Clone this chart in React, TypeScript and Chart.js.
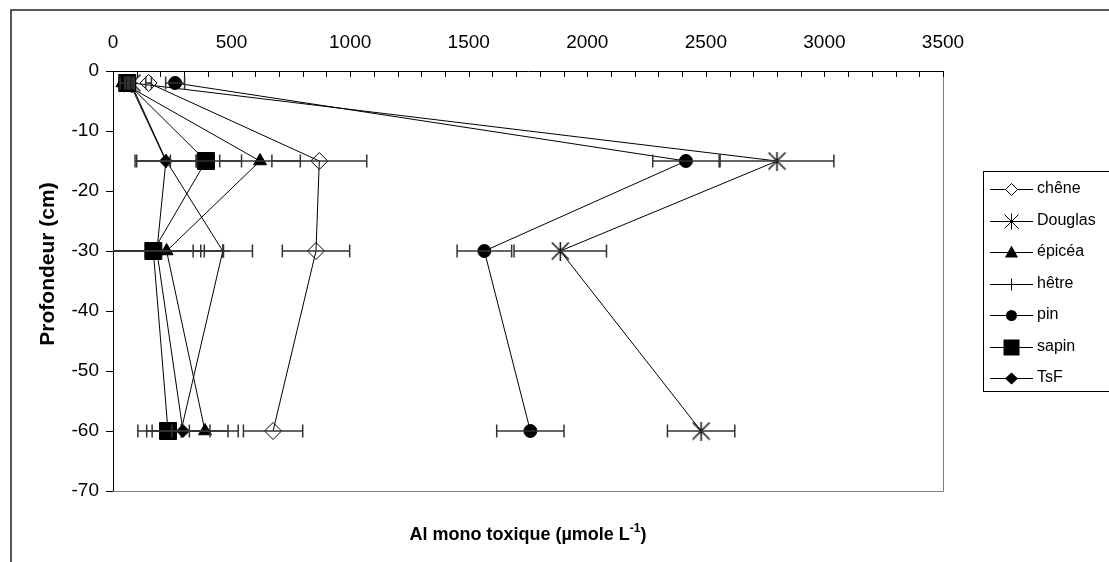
import React, { useEffect, useRef } from 'react';
import { Chart, registerables } from 'chart.js';
Chart.register(...registerables);

// ---- data ----
const depths = [-2, -15, -30, -60];
const seriesNames = ['chêne', 'Douglas', 'épicéa', 'hêtre', 'pin', 'sapin', 'TsF'];
const chene = [150, 870, 856, 675];
const cheneErr = [12, 200, 142, 125];
const douglas = [80, 2800, 1886, 2480];
const douglasErr = [10, 240, 195, 142];
const epicea = [40, 620, 226, 388];
const epiceaErr = [10, 170, 240, 140];
const hetre = [75, 225, 463, 287];
const hetreErr = [10, 125, 125, 122];
const pin = [262, 2416, 1566, 1760];
const pinErr = [40, 140, 115, 142];
const sapin = [60, 392, 170, 232];
const sapinErr = [10, 150, 200, 90];
const tsf = [70, 223, 185, 295];
const tsfErr = [10, 130, 200, 190];
const xTickLabels = [0, 500, 1000, 1500, 2000, 2500, 3000, 3500];
const yTickLabels = [0, -10, -20, -30, -40, -50, -60, -70];
const xTitleMain = 'Al mono toxique (µmole L';
const xTitleSup = '-1';
const xTitleEnd = ')';
const yTitle = 'Profondeur (cm)';

const FONT = '"Liberation Sans", Arial, sans-serif';

const values = [chene, douglas, epicea, hetre, pin, sapin, tsf];
const errors = [cheneErr, douglasErr, epiceaErr, hetreErr, pinErr, sapinErr, tsfErr];

function makeDouglasMarker(size: number): HTMLCanvasElement {
  const c = document.createElement('canvas');
  c.width = size;
  c.height = size;
  const g = c.getContext('2d')!;
  g.strokeStyle = '#000';
  g.lineWidth = 1.4;
  g.beginPath();
  g.moveTo(1, 1); g.lineTo(size - 1, size - 1);
  g.moveTo(size - 1, 1); g.lineTo(1, size - 1);
  g.moveTo(size / 2, 0); g.lineTo(size / 2, size);
  g.stroke();
  return c;
}

type Style = { style: any; radius: number; fill: string };

function drawLegendMarker(ctx: CanvasRenderingContext2D, i: number, x: number, y: number) {
  ctx.save();
  ctx.strokeStyle = '#000';
  ctx.fillStyle = '#000';
  ctx.lineWidth = 1;
  ctx.beginPath();
  switch (i) {
    case 0:
      ctx.moveTo(x, y - 6); ctx.lineTo(x + 6, y); ctx.lineTo(x, y + 6); ctx.lineTo(x - 6, y); ctx.closePath();
      ctx.fillStyle = '#fff'; ctx.fill(); ctx.stroke();
      break;
    case 1:
      ctx.moveTo(x - 7, y - 7); ctx.lineTo(x + 7, y + 7);
      ctx.moveTo(x + 7, y - 7); ctx.lineTo(x - 7, y + 7);
      ctx.moveTo(x, y - 8); ctx.lineTo(x, y + 8);
      ctx.stroke();
      break;
    case 2:
      ctx.moveTo(x, y - 7); ctx.lineTo(x + 6.5, y + 5); ctx.lineTo(x - 6.5, y + 5); ctx.closePath();
      ctx.fill();
      break;
    case 3:
      ctx.moveTo(x, y - 6); ctx.lineTo(x, y + 6);
      ctx.stroke();
      break;
    case 4:
      ctx.arc(x, y, 5.5, 0, Math.PI * 2);
      ctx.fill();
      break;
    case 5:
      ctx.rect(x - 8, y - 8, 16, 16);
      ctx.fill();
      break;
    case 6:
      ctx.moveTo(x, y - 6); ctx.lineTo(x + 6.5, y); ctx.lineTo(x, y + 6); ctx.lineTo(x - 6.5, y); ctx.closePath();
      ctx.fill();
      break;
  }
  ctx.restore();
}

const decorPlugin = {
  id: 'decor',
  beforeDraw(chart: any) {
    const ctx = chart.ctx as CanvasRenderingContext2D;
    ctx.save();
    ctx.fillStyle = '#fff';
    ctx.fillRect(0, 0, chart.width, chart.height);
    ctx.restore();
  },
  afterDatasetsDraw(chart: any) {
    const ctx = chart.ctx as CanvasRenderingContext2D;
    const xs = chart.scales.x;
    const ys = chart.scales.y;
    const a = chart.chartArea;
    ctx.save();
    ctx.beginPath();
    ctx.rect(a.left, a.top - 10, a.right - a.left, a.bottom - a.top + 20);
    ctx.clip();
    ctx.strokeStyle = '#333';
    ctx.lineWidth = 1.5;
    values.forEach((vals, s) => {
      vals.forEach((v, k) => {
        const e = errors[s][k];
        const y = ys.getPixelForValue(depths[k]);
        const x1 = xs.getPixelForValue(v - e);
        const x2 = xs.getPixelForValue(v + e);
        ctx.beginPath();
        ctx.moveTo(x1, y); ctx.lineTo(x2, y);
        ctx.moveTo(x1, y - 6.5); ctx.lineTo(x1, y + 6.5);
        ctx.moveTo(x2, y - 6.5); ctx.lineTo(x2, y + 6.5);
        ctx.stroke();
      });
    });
    ctx.restore();
  },
  afterDraw(chart: any) {
    const ctx = chart.ctx as CanvasRenderingContext2D;
    const xs = chart.scales.x;
    const a = chart.chartArea;
    ctx.save();
    ctx.strokeStyle = '#808080';
    ctx.lineWidth = 1;
    ctx.beginPath();
    ctx.moveTo(Math.round(a.right) + 0.5, a.top);
    ctx.lineTo(Math.round(a.right) + 0.5, Math.round(a.bottom) + 0.5);
    ctx.lineTo(a.left, Math.round(a.bottom) + 0.5);
    ctx.stroke();
    ctx.strokeStyle = '#000';
    ctx.beginPath();
    for (let v = 100; v <= 3500; v += 100) {
      const x = Math.round(xs.getPixelForValue(v)) + 0.5;
      ctx.moveTo(x, a.top);
      ctx.lineTo(x, a.top + 6);
    }
    ctx.stroke();
    ctx.strokeStyle = '#222';
    ctx.lineWidth = 1.5;
    ctx.strokeRect(11, 10, 1200, 700);
    ctx.fillStyle = '#000';
    ctx.save();
    ctx.translate(48, 264);
    ctx.rotate(-Math.PI / 2);
    ctx.font = `bold 21px ${FONT}`;
    ctx.textAlign = 'center';
    ctx.textBaseline = 'middle';
    ctx.fillText(yTitle, 0, 0);
    ctx.restore();
    const mainFont = `bold 18px ${FONT}`;
    const supFont = `bold 12px ${FONT}`;
    ctx.font = mainFont;
    const w1 = ctx.measureText(xTitleMain).width;
    const w3 = ctx.measureText(xTitleEnd).width;
    ctx.font = supFont;
    const w2 = ctx.measureText(xTitleSup).width;
    const total = w1 + w2 + w3;
    const x0 = (a.left + a.right) / 2 - total / 2;
    const base = 540;
    ctx.textAlign = 'left';
    ctx.textBaseline = 'alphabetic';
    ctx.font = mainFont;
    ctx.fillText(xTitleMain, x0, base);
    ctx.font = supFont;
    ctx.fillText(xTitleSup, x0 + w1, base - 8);
    ctx.font = mainFont;
    ctx.fillText(xTitleEnd, x0 + w1 + w2, base);
    ctx.lineWidth = 1;
    ctx.strokeStyle = '#000';
    ctx.fillStyle = '#fff';
    ctx.fillRect(983.5, 171.5, 200, 220);
    ctx.strokeRect(983.5, 171.5, 200, 220);
    ctx.font = `16px ${FONT}`;
    ctx.textBaseline = 'middle';
    seriesNames.forEach((name, i) => {
      const y = 189 + 31.5 * i;
      ctx.strokeStyle = '#000';
      ctx.beginPath();
      ctx.moveTo(990, Math.round(y) + 0.5);
      ctx.lineTo(1033, Math.round(y) + 0.5);
      ctx.stroke();
      drawLegendMarker(ctx, i, 1011.5, Math.round(y) + 0.5);
      ctx.fillStyle = '#000';
      ctx.fillText(name, 1037, y);
    });
    ctx.restore();
  },
};

export default function App() {
  const ref = useRef<HTMLCanvasElement | null>(null);
  useEffect(() => {
    const canvas = ref.current!;
    const douglasImg = makeDouglasMarker(19);
    const styles: Style[] = [
      { style: 'rectRot', radius: 8.5, fill: 'rgba(0,0,0,0)' },
      { style: douglasImg, radius: 9, fill: '#000' },
      { style: 'triangle', radius: 7.5, fill: '#000' },
      { style: 'cross', radius: 7, fill: '#000' },
      { style: 'circle', radius: 6.5, fill: '#000' },
      { style: 'rect', radius: 12, fill: '#000' },
      { style: 'rectRot', radius: 6.5, fill: '#000' },
    ];
    const datasets = seriesNames.map((name, i) => ({
      label: name,
      data: depths.map((d, k) => ({ x: values[i][k], y: d })),
      showLine: true,
      borderColor: '#000',
      borderWidth: 1,
      pointStyle: styles[i].style,
      pointRadius: styles[i].radius,
      pointHoverRadius: styles[i].radius,
      pointBackgroundColor: styles[i].fill,
      pointBorderColor: '#000',
      pointBorderWidth: 1,
      clip: false as any,
    }));
    const chart = new Chart(canvas, {
      type: 'scatter',
      data: { datasets },
      options: {
        animation: false,
        responsive: false,
        devicePixelRatio: 1,
        layout: { padding: { left: 0, top: 0, right: 166, bottom: 71 } },
        plugins: { legend: { display: false }, tooltip: { enabled: false } },
        scales: {
          x: {
            type: 'linear',
            position: 'top',
            min: 0,
            max: 3500,
            afterBuildTicks: (s: any) => { s.ticks = xTickLabels.map((v) => ({ value: v })); },
            ticks: {
              autoSkip: false,
              maxRotation: 0,
              padding: 17,
              color: '#000',
              font: { family: FONT, size: 19 },
              callback: (v: any) => String(v),
            },
            grid: { display: false, drawTicks: false },
            border: { display: true, color: '#000', width: 1 },
            afterFit: (s: any) => { s.height = 71; },
          },
          y: {
            type: 'linear',
            min: -70,
            max: 0,
            afterBuildTicks: (s: any) => { s.ticks = yTickLabels.map((v) => ({ value: v })); },
            ticks: {
              padding: 7,
              color: '#000',
              font: { family: FONT, size: 19 },
              callback: (v: any) => String(v),
            },
            grid: { display: true, drawOnChartArea: false, drawTicks: true, tickLength: 7, color: '#000' },
            border: { display: true, color: '#000', width: 1 },
            afterFit: (s: any) => { s.width = 113; },
          },
        },
      },
      plugins: [decorPlugin],
    } as any);
    return () => chart.destroy();
  }, []);
  return (
    <div style={{ position: 'absolute', left: 0, top: 0, width: 1109, height: 562, overflow: 'hidden', background: '#fff' }}>
      <canvas ref={ref} width={1109} height={562} style={{ width: 1109, height: 562, display: 'block' }} />
    </div>
  );
}
